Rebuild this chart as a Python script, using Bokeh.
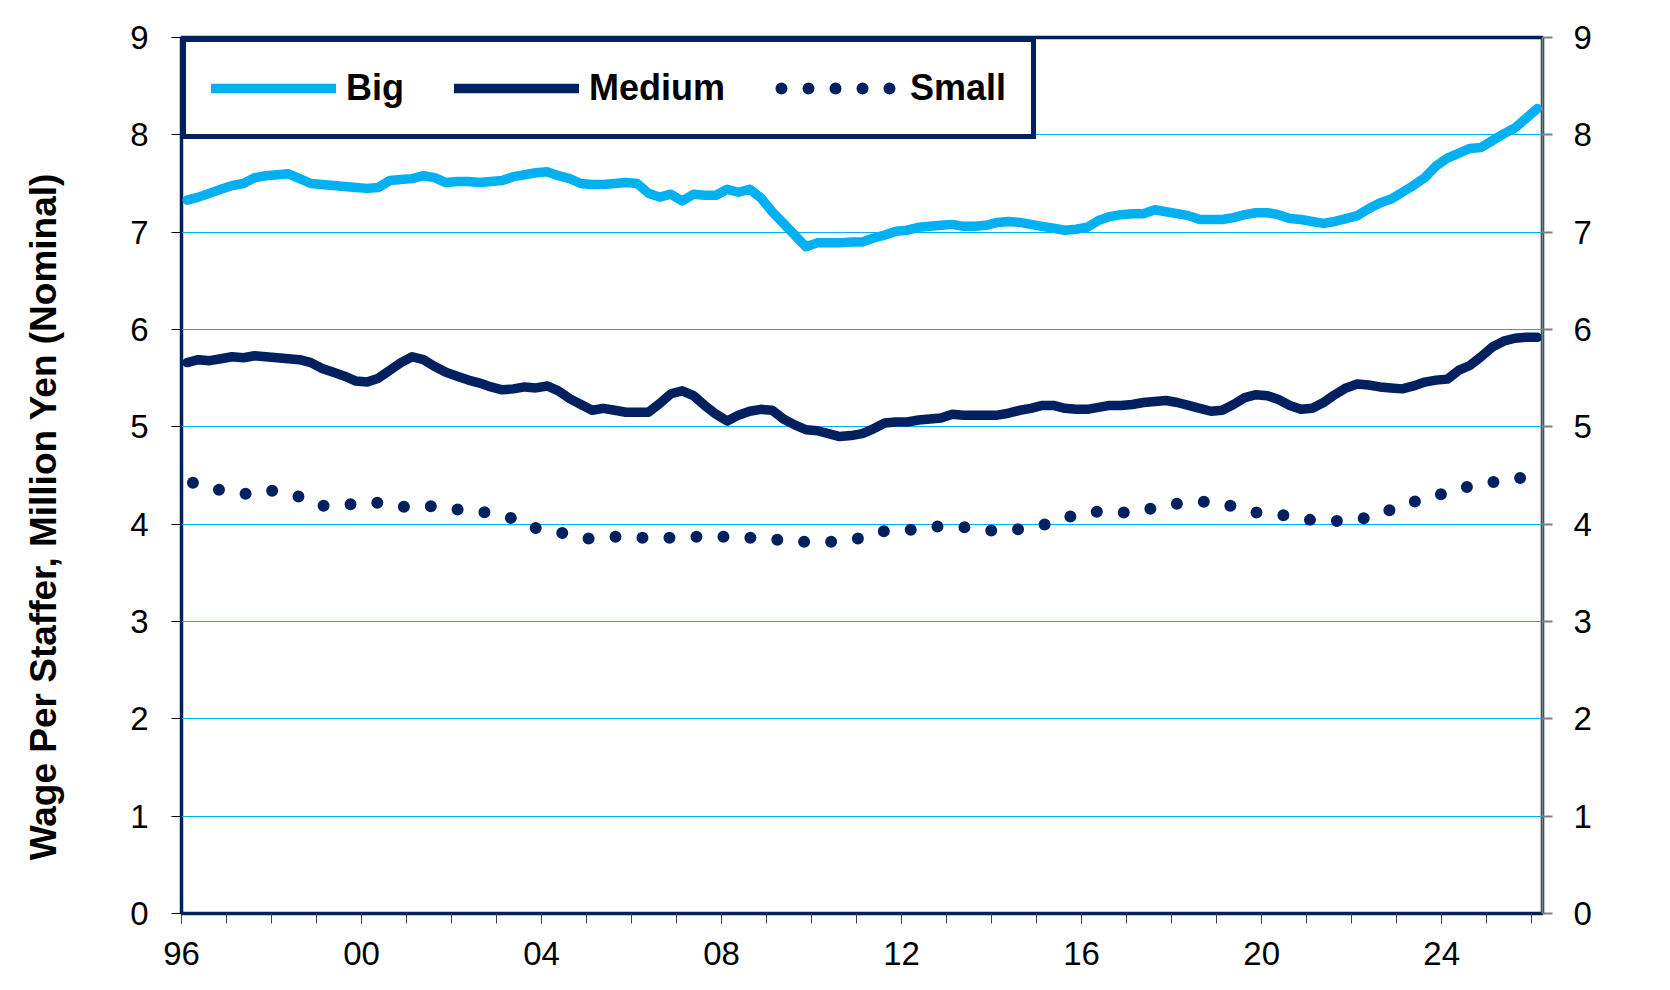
from bokeh.plotting import figure
from bokeh.models import Range1d, LinearAxis, FixedTicker, Legend, LegendItem, ColumnDataSource
from bokeh.embed import file_html
from bokeh.resources import INLINE

# quarterly observations, 1996Q1 .. 2026Q1 (plotted at mid-quarter)
quarters = [1996.125 + 0.25 * i for i in range(121)]

big = [7.33, 7.36, 7.40, 7.44, 7.48, 7.50, 7.56, 7.58, 7.59, 7.60, 7.55, 7.50,
       7.49, 7.48, 7.47, 7.46, 7.45, 7.46, 7.53, 7.54, 7.55, 7.58, 7.56, 7.51,
       7.52, 7.52, 7.51, 7.52, 7.53, 7.57, 7.59, 7.61, 7.62, 7.58, 7.55, 7.50,
       7.49, 7.49, 7.50, 7.51, 7.50, 7.40, 7.36, 7.39, 7.32, 7.39, 7.38, 7.38,
       7.44, 7.41, 7.44, 7.35, 7.21, 7.09, 6.97, 6.85, 6.89, 6.89, 6.89, 6.90,
       6.90, 6.94, 6.97, 7.01, 7.02, 7.05, 7.06, 7.07, 7.08, 7.06, 7.06, 7.07,
       7.10, 7.11, 7.10, 7.08, 7.06, 7.04, 7.02, 7.03, 7.05, 7.12, 7.16, 7.18,
       7.19, 7.19, 7.23, 7.21, 7.19, 7.17, 7.13, 7.13, 7.13, 7.15, 7.18, 7.20,
       7.20, 7.18, 7.14, 7.13, 7.11, 7.09, 7.11, 7.14, 7.17, 7.24, 7.30, 7.34,
       7.41, 7.48, 7.56, 7.68, 7.76, 7.81, 7.86, 7.87, 7.94, 8.01, 8.07, 8.17,
       8.27]

medium = [5.66, 5.69, 5.68, 5.70, 5.72, 5.71, 5.73, 5.72, 5.71, 5.70, 5.69, 5.66,
          5.60, 5.56, 5.52, 5.47, 5.46, 5.50, 5.58, 5.66, 5.72, 5.69, 5.62, 5.56,
          5.52, 5.48, 5.45, 5.41, 5.38, 5.39, 5.41, 5.40, 5.42, 5.37, 5.29, 5.23,
          5.17, 5.19, 5.17, 5.15, 5.15, 5.15, 5.24, 5.34, 5.37, 5.32, 5.22, 5.13,
          5.06, 5.12, 5.16, 5.18, 5.17, 5.08, 5.02, 4.97, 4.96, 4.93, 4.90, 4.91,
          4.93, 4.98, 5.04, 5.05, 5.05, 5.07, 5.08, 5.09, 5.13, 5.12, 5.12, 5.12,
          5.12, 5.14, 5.17, 5.19, 5.22, 5.22, 5.19, 5.18, 5.18, 5.20, 5.22, 5.22,
          5.23, 5.25, 5.26, 5.27, 5.25, 5.22, 5.19, 5.16, 5.17, 5.23, 5.30, 5.33,
          5.32, 5.28, 5.22, 5.18, 5.19, 5.25, 5.33, 5.40, 5.44, 5.43, 5.41, 5.40,
          5.39, 5.42, 5.46, 5.48, 5.49, 5.58, 5.63, 5.72, 5.82, 5.88, 5.91, 5.92,
          5.92]

small = [4.44, 4.41, 4.37, 4.35, 4.33, 4.31, 4.32, 4.35, 4.34, 4.31, 4.28, 4.22,
         4.19, 4.19, 4.20, 4.21, 4.23, 4.22, 4.19, 4.18, 4.18, 4.19, 4.18, 4.16,
         4.15, 4.14, 4.13, 4.11, 4.08, 4.06, 4.00, 3.96, 3.94, 3.92, 3.89, 3.86,
         3.85, 3.86, 3.87, 3.87, 3.86, 3.86, 3.86, 3.86, 3.86, 3.87, 3.87, 3.87,
         3.87, 3.87, 3.86, 3.86, 3.85, 3.83, 3.82, 3.82, 3.82, 3.82, 3.82, 3.84,
         3.86, 3.89, 3.93, 3.94, 3.94, 3.95, 3.97, 3.98, 3.98, 3.97, 3.96, 3.94,
         3.93, 3.93, 3.95, 3.97, 3.99, 4.02, 4.06, 4.10, 4.12, 4.13, 4.13, 4.12,
         4.12, 4.14, 4.17, 4.19, 4.21, 4.22, 4.23, 4.23, 4.21, 4.18, 4.15, 4.12,
         4.11, 4.10, 4.08, 4.06, 4.04, 4.03, 4.03, 4.04, 4.05, 4.07, 4.10, 4.15,
         4.19, 4.23, 4.26, 4.29, 4.33, 4.36, 4.39, 4.41, 4.43, 4.45, 4.47, 4.48,
         4.48]

x_label_years = [1996, 2000, 2004, 2008, 2012, 2016, 2020, 2024]
x_labels = ["96", "00", "04", "08", "12", "16", "20", "24"]
x_minor_years = list(range(1996, 2027))
y_ticks = [0, 1, 2, 3, 4, 5, 6, 7, 8, 9]

LIGHT = "#00B0F0"
NAVY = "#002060"
FONT = "Liberation Sans"

src = ColumnDataSource(dict(x=quarters, big=big, medium=medium, small=small))

p = figure(width=1654, height=980, output_backend="svg", toolbar_location=None,
           x_range=Range1d(1996, 2026.24), y_range=Range1d(0, 9),
           min_border_left=181, min_border_right=112, min_border_top=37, min_border_bottom=67)
p.background_fill_color = "white"
p.border_fill_color = "white"
p.outline_line_color = NAVY
p.outline_line_width = 3.5
p.outline_line_alpha = 1

p.xgrid.visible = False
p.ygrid.grid_line_color = LIGHT
p.ygrid.grid_line_width = 1.2
p.ygrid.ticker = FixedTicker(ticks=y_ticks)

xa = p.xaxis[0]
xa.ticker = FixedTicker(ticks=x_label_years, minor_ticks=x_minor_years)
xa.major_label_overrides = dict(zip(x_label_years, x_labels))
xa.axis_line_color = None
xa.major_tick_in = 0
xa.major_tick_out = 10
xa.minor_tick_in = 0
xa.minor_tick_out = 10
xa.major_tick_line_color = "#404040"
xa.minor_tick_line_color = "#404040"
xa.major_label_text_font = FONT
xa.major_label_text_font_size = "33px"
xa.major_label_text_color = "black"
xa.major_label_standoff = 18

ya = p.yaxis[0]
ya.ticker = FixedTicker(ticks=y_ticks)
ya.axis_line_color = None
ya.major_tick_in = 0
ya.major_tick_out = 10
ya.minor_tick_line_color = None
ya.major_tick_line_color = "black"
ya.major_label_text_font = FONT
ya.major_label_text_font_size = "33px"
ya.major_label_text_color = "black"
ya.major_label_standoff = 23
# the label sits a bit below the middle of the frame: pad its top end with no-break spaces
ya.axis_label = "Wage Per Staffer, Million Yen (Nominal)" + "\u00a0" * 8
ya.axis_label_text_font = FONT
ya.axis_label_text_font_size = "37px"
ya.axis_label_text_font_style = "bold"
ya.axis_label_text_color = "black"
ya.axis_label_standoff = 63

ra = LinearAxis(ticker=FixedTicker(ticks=y_ticks))
ra.axis_line_color = "#808080"
ra.axis_line_width = 2
ra.major_tick_in = 0
ra.major_tick_out = 10
ra.major_tick_line_color = "#808080"
ra.major_tick_line_width = 2
ra.minor_tick_line_color = None
ra.major_label_text_font = FONT
ra.major_label_text_font_size = "33px"
ra.major_label_text_color = "black"
ra.major_label_standoff = 21
p.add_layout(ra, "right")

r_big = p.line("x", "big", source=src, color=LIGHT, line_width=9.5,
               line_cap="round", line_join="round")
r_med = p.line("x", "medium", source=src, color=NAVY, line_width=9.5,
               line_cap="round", line_join="round")
r_small = p.line("x", "small", source=src, color=NAVY, line_width=12,
                 line_cap="round", line_join="round", line_dash="0 27", line_dash_offset=21)

legend = Legend(items=[LegendItem(label="Big", renderers=[r_big]),
                       LegendItem(label="Medium", renderers=[r_med]),
                       LegendItem(label="Small", renderers=[r_small])],
                location="top_left", orientation="horizontal")
legend.margin = 0
legend.padding = 25
legend.spacing = 50
legend.glyph_width = 125
legend.glyph_height = 36
legend.label_standoff = 10
legend.label_text_font = FONT
legend.label_text_font_size = "36px"
legend.label_text_font_style = "bold"
legend.label_text_color = "black"
legend.border_line_color = NAVY
legend.border_line_width = 5
legend.border_line_alpha = 1
legend.background_fill_color = "white"
legend.background_fill_alpha = 1
p.add_layout(legend)

open("out.html", "w").write(file_html(p, INLINE))
